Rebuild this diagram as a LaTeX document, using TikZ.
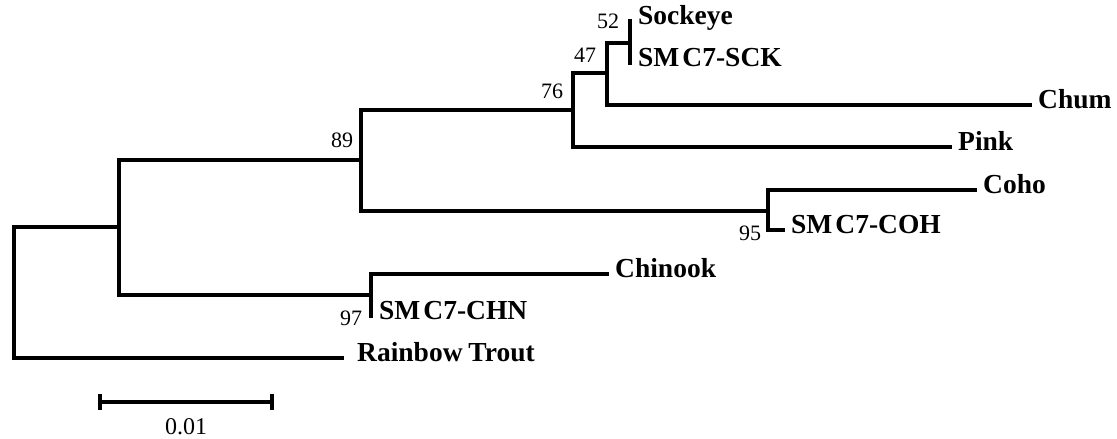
\documentclass[tikz,border=0pt]{standalone}
\usepackage{fontspec}
\setmainfont{Liberation Serif}
\begin{document}
\begin{tikzpicture}[x=1pt,y=-1pt,
  br/.style={line width=3.3pt,line cap=rect},
  lab/.style={font=\fontsize{27.5}{27.5}\selectfont\bfseries,anchor=west,inner xsep=8pt,inner ysep=0pt,text height=0.66em,text depth=0pt},
  boot/.style={font=\fontsize{22}{22}\selectfont,inner sep=0pt}]
\useasboundingbox (0,0) rectangle (1117,439);
% internal nodes
\coordinate (r) at (14,292.5);
\coordinate (nA) at (119,227);
\coordinate (n89) at (361,160);
\coordinate (n76) at (573,110);
\coordinate (n47) at (607,73);
\coordinate (n52) at (630,43);
\coordinate (n95) at (768,211);
\coordinate (nCHN) at (371,295);
% leaf labels
\node[lab] (sock) at (630,21) {Sockeye};
\node[lab] (sck) at (630,63) {SM\kern3pt C7-SCK};
\node[lab] (chum) at (1030,105) {Chum};
\node[lab] (pink) at (950,147) {Pink};
\node[lab] (coho) at (975,190) {Coho};
\node[lab] (coh) at (783,230) {SM\kern3pt C7-COH};
\node[lab] (chin) at (607,274) {Chinook};
\node[lab] (chn) at (371,316) {SM\kern3pt C7-CHN};
\node[lab,inner xsep=15pt] (rt) at (342,358) {Rainbow\kern-1pt\ Trout};
% branches
\draw[br] (r) |- (nA);
\draw[br] (r) |- (rt.west);
\draw[br] (nA) |- (n89);
\draw[br] (nA) |- (nCHN);
\draw[br] (n89) |- (n76);
\draw[br] (n89) |- (n95);
\draw[br] (n76) |- (n47);
\draw[br] (n76) |- (pink.west);
\draw[br] (n47) |- (n52);
\draw[br] (n47) |- (chum.west);
\draw[br] (n52) |- (sock.west);
\draw[br] (n52) |- (sck.west);
\draw[br] (n95) |- (coho.west);
\draw[br] (n95) |- (coh.west);
\draw[br] (nCHN) |- (chin.west);
\draw[br] (nCHN) |- (chn.west);
% bootstrap values
\node[boot] (b52) at (608,21) {52};
\node[boot] (b47) at (585,55) {47};
\node[boot] (b76) at (552,91) {76};
\node[boot] (b89) at (342,140) {89};
\node[boot] (b95) at (750,233) {95};
\node[boot] (b97) at (351,318) {97};
% scale bar
\coordinate (s1) at (100,402);
\coordinate (s2) at (272,402);
\draw[br,line cap=butt] (s1) -- (s2);
\draw[br,line cap=butt] ([yshift=-8]s1) -- ([yshift=8]s1);
\draw[br,line cap=butt] ([yshift=-8]s2) -- ([yshift=8]s2);
\node[font=\fontsize{24}{24}\selectfont,anchor=north] (sl) at (186,415) {0.01};
\end{tikzpicture}
\end{document}
